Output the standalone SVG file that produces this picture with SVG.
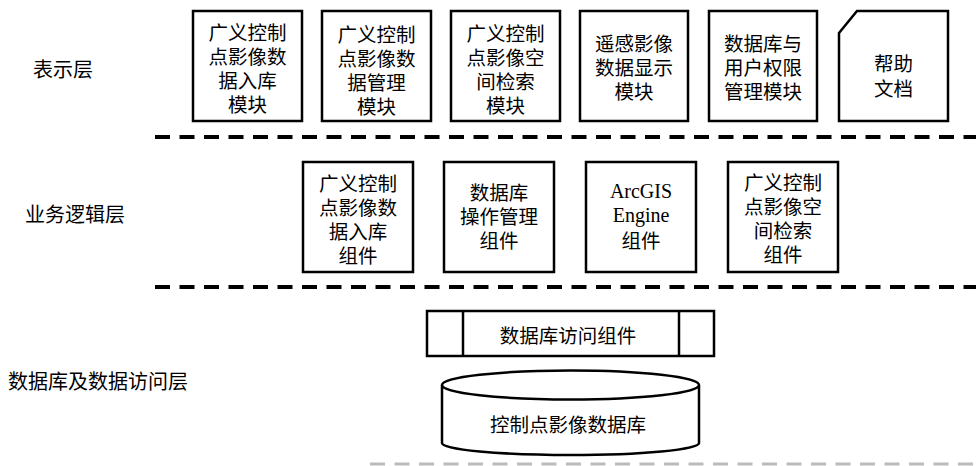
<svg xmlns="http://www.w3.org/2000/svg" width="976" height="466" viewBox="0 0 976 466">
<style>
.box{fill:#fff;stroke:#000;stroke-width:2.5}
.t{font-family:"Noto Sans CJK SC","Liberation Serif",serif;font-size:19.5px;fill:#000;text-anchor:middle;dominant-baseline:central}
.l{font-family:"Noto Sans CJK SC",sans-serif;font-size:20px;fill:#000;dominant-baseline:central}
.en{font-family:"Liberation Serif","Noto Sans CJK SC",serif;font-size:20px}
.dash{stroke:#000;stroke-width:4;stroke-dasharray:15 9.5;fill:none}
.dash2{stroke:#bbb;stroke-width:3;stroke-dasharray:15 9.5;fill:none}
</style>
<rect width="976" height="466" fill="#fff"/>
<g id="layer-labels">
<text class="l" x="33" y="68">表示层</text>
<text class="l" x="25" y="213">业务逻辑层</text>
<text class="l" x="8" y="380">数据库及数据访问层</text>
</g>
<g id="connectors">
<line class="dash" x1="155" y1="137" x2="976" y2="137"/>
<line class="dash" x1="155" y1="287" x2="976" y2="287"/>
<line class="dash2" x1="370" y1="464" x2="976" y2="464"/>
</g>
<g id="p1">
<rect class="box" x="193" y="11" width="109" height="110"/>
<text class="t"><tspan x="247.5" y="31">广义控制</tspan><tspan x="247.5" y="55">点影像数</tspan><tspan x="247.5" y="79">据入库</tspan><tspan x="247.5" y="103">模块</tspan></text>
</g>
<g id="p2">
<rect class="box" x="322" y="11" width="109" height="110"/>
<text class="t"><tspan x="376.5" y="33">广义控制</tspan><tspan x="376.5" y="57">点影像数</tspan><tspan x="376.5" y="81">据管理</tspan><tspan x="376.5" y="105">模块</tspan></text>
</g>
<g id="p3">
<rect class="box" x="451" y="11" width="109" height="110"/>
<text class="t"><tspan x="505.5" y="32">广义控制</tspan><tspan x="505.5" y="56">点影像空</tspan><tspan x="505.5" y="80">间检索</tspan><tspan x="505.5" y="104">模块</tspan></text>
</g>
<g id="p4">
<rect class="box" x="580" y="11" width="108" height="110"/>
<text class="t"><tspan x="634" y="42">遥感影像</tspan><tspan x="634" y="66">数据显示</tspan><tspan x="634" y="90">模块</tspan></text>
</g>
<g id="p5">
<rect class="box" x="709" y="11" width="108" height="110"/>
<text class="t"><tspan x="763" y="42">数据库与</tspan><tspan x="763" y="66">用户权限</tspan><tspan x="763" y="90">管理模块</tspan></text>
</g>
<g id="p6">
<path class="box" d="M839,33 L857,11 L948,11 L948,121 L839,121 Z"/>
<text class="t"><tspan x="893.5" y="62">帮助</tspan><tspan x="893.5" y="87">文档</tspan></text>
</g>
<g id="b1">
<rect class="box" x="303" y="162" width="110" height="110"/>
<text class="t"><tspan x="358" y="182">广义控制</tspan><tspan x="358" y="206">点影像数</tspan><tspan x="358" y="230">据入库</tspan><tspan x="358" y="254">组件</tspan></text>
</g>
<g id="b2">
<rect class="box" x="444" y="162" width="110" height="110"/>
<text class="t"><tspan x="499" y="191">数据库</tspan><tspan x="499" y="215">操作管理</tspan><tspan x="499" y="239">组件</tspan></text>
</g>
<g id="b3">
<rect class="box" x="586" y="162" width="110" height="110"/>
<text class="t"><tspan class="en" x="641" y="191">ArcGIS</tspan><tspan class="en" x="641" y="215">Engine</tspan><tspan x="641" y="239">组件</tspan></text>
</g>
<g id="b4">
<rect class="box" x="728" y="162" width="110" height="110"/>
<text class="t"><tspan x="783" y="181">广义控制</tspan><tspan x="783" y="205">点影像空</tspan><tspan x="783" y="229">间检索</tspan><tspan x="783" y="253">组件</tspan></text>
</g>
<g id="d1">
<rect class="box" x="427" y="311" width="287" height="45"/>
<line x1="463" y1="311" x2="463" y2="356" stroke="#000" stroke-width="2.5"/>
<line x1="679" y1="311" x2="679" y2="356" stroke="#000" stroke-width="2.5"/>
<text class="t" x="568" y="334">数据库访问组件</text>
</g>
<g id="db">
<path class="box" d="M442,385 L442,443 A128.5,12 0 0 0 699,443 L699,385"/>
<ellipse class="box" cx="570.5" cy="385" rx="128.5" ry="14.5"/>
<text class="t" x="568" y="423">控制点影像数据库</text>
</g>
</svg>
